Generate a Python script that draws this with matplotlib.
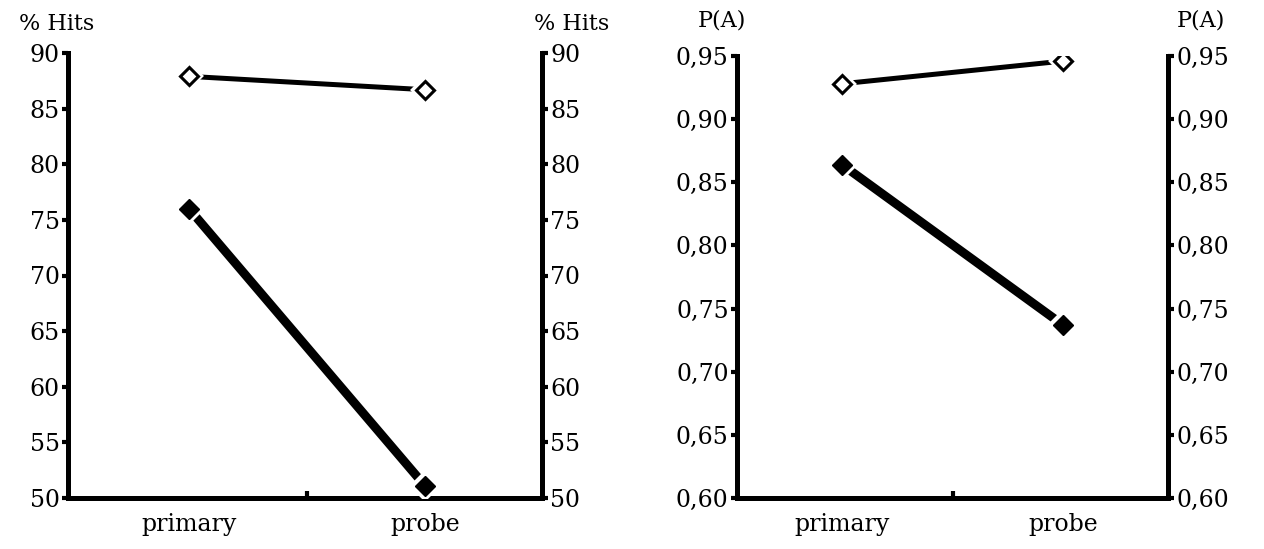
import matplotlib
matplotlib.use('Agg')
import matplotlib.pyplot as plt

# data
conditions = ['primary', 'probe']
hits_open = [87.9, 86.7]
hits_filled = [76.0, 51.1]
pa_open = [0.928, 0.946]
pa_filled = [0.864, 0.737]

hits_ticks = [50, 55, 60, 65, 70, 75, 80, 85, 90]
hits_labels = ['50', '55', '60', '65', '70', '75', '80', '85', '90']
pa_ticks = [0.60, 0.65, 0.70, 0.75, 0.80, 0.85, 0.90, 0.95]
pa_labels = ['0,60', '0,65', '0,70', '0,75', '0,80', '0,85', '0,90', '0,95']

plt.rcParams['font.family'] = ['DejaVu Serif']

W, H = 1264, 549
fig = plt.figure(figsize=(W / 100, H / 100), dpi=100)


def px_axes(x0, x1, ytop, ybot):
    return fig.add_axes([x0 / W, (H - ybot) / H, (x1 - x0) / W, (ybot - ytop) / H])


def style_panel(ax, ticks, labels, xlim):
    ax.set_xlim(*xlim)
    ax.set_ylim(ticks[0], ticks[-1])
    ax.spines['top'].set_visible(False)
    for s in ['left', 'right', 'bottom']:
        ax.spines[s].set_linewidth(3.6)
        ax.spines[s].set_capstyle('projecting')
    ax.set_yticks(ticks)
    ax.set_yticklabels(labels)
    ax.tick_params(axis='y', left=True, right=True, labelleft=True, labelright=True,
                   direction='out', length=4, width=3, labelsize=17, pad=2)
    ax.set_xticks([0, 1])
    ax.set_xticklabels(conditions)
    ax.set_xticks([0.5], minor=True)
    ax.tick_params(axis='x', which='major', length=0, labelsize=17, pad=11)
    ax.tick_params(axis='x', which='minor', direction='in', length=5, width=3)


def draw_series(ax, yo, yf):
    x = [0, 1]
    # thin line with open diamonds
    ax.plot(x, yo, color='black', lw=3.6, solid_capstyle='butt', zorder=3)
    ax.plot(x, yo, ls='none', marker='D', ms=12.5, mfc='white', mec='white', mew=3, zorder=4)
    ax.plot(x, yo, ls='none', marker='D', ms=9.5, mfc='white', mec='black', mew=2.2, zorder=5)
    # thick line with filled diamonds
    ax.plot(x, yf, color='black', lw=6.4, solid_capstyle='butt', zorder=3)
    ax.plot(x, yf, ls='none', marker='D', ms=13, mfc='white', mec='white', mew=3, zorder=4)
    ax.plot(x, yf, ls='none', marker='D', ms=10, mfc='black', mec='black', mew=1, zorder=5)


ax1 = px_axes(68, 542, 53, 498)
style_panel(ax1, hits_ticks, hits_labels, (-0.513, 1.496))
draw_series(ax1, hits_open, hits_filled)

ax2 = px_axes(737, 1168, 56, 498)
style_panel(ax2, pa_ticks, pa_labels, (-0.475, 1.475))
draw_series(ax2, pa_open, pa_filled)

# axis headers
fig.text(57 / W, 1 - 24 / H, '% Hits', ha='center', va='center', fontsize=16)
fig.text(572 / W, 1 - 24 / H, '% Hits', ha='center', va='center', fontsize=16)
fig.text(722 / W, 1 - 21 / H, 'P(A)', ha='center', va='center', fontsize=16)
fig.text(1201 / W, 1 - 21 / H, 'P(A)', ha='center', va='center', fontsize=16)

fig.savefig('out.png', dpi=100)
